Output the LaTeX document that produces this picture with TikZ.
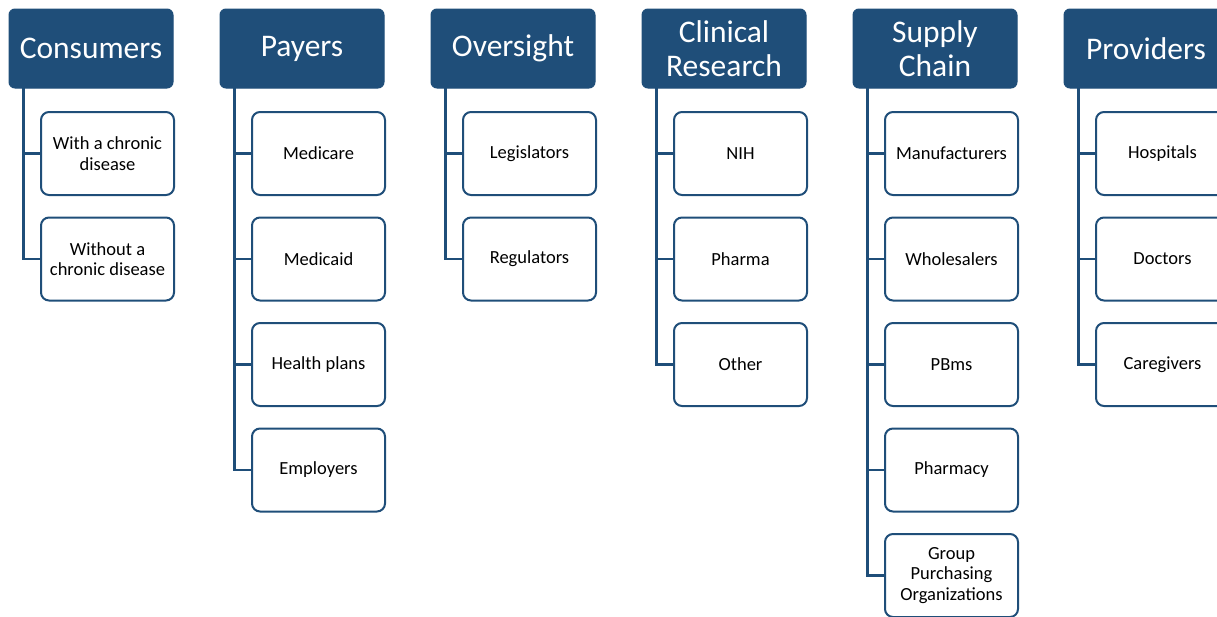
\documentclass[tikz,border=0pt]{standalone}
\usepackage{fontspec}
\setmainfont{Carlito}
\definecolor{navy}{RGB}{31,78,121}
\tikzset{
  hdr/.style={draw=navy, fill=navy, rounded corners=6pt, minimum width=164pt, minimum height=79pt,
    text=white, font=\fontsize{31.5}{34.5}\selectfont, align=center, inner sep=0pt, line width=1pt},
  child/.style={draw=navy, fill=white, rounded corners=8pt, minimum width=133pt, minimum height=83pt,
    text=black, font=\fontsize{18.5}{20.7}\selectfont, align=center, inner sep=0pt, line width=2pt},
  conn/.style={draw=navy, line width=2.5pt}
}
\begin{document}
\begin{tikzpicture}[x=1pt,y=-1pt]
\useasboundingbox (0,0) rectangle (1217,616);
% headers
\node[hdr] (h0) at (91,48.5) {Consumers};
\node[hdr] (h1) at (302,48.5) {Payers};
\node[hdr] (h2) at (513,48.5) {Oversight};
\node[hdr] (h3) at (724,48.5) {Clinical\\Research};
\node[hdr] (h4) at (935,48.5) {Supply\\Chain};
\node[hdr] (h5) at (1146,48.5) {Providers};
% children
\node[child] (c00) at (107.5,153.5) {With a chronic\\disease};
\node[child] (c01) at (107.5,259) {Without a\\chronic disease};
\node[child] (c10) at (318.5,153.5) {Medicare};
\node[child] (c11) at (318.5,259) {Medicaid};
\node[child] (c12) at (318.5,364.5) {Health plans};
\node[child] (c13) at (318.5,470) {Employers};
\node[child] (c20) at (529.5,153.5) {Legislators};
\node[child] (c21) at (529.5,259) {Regulators};
\node[child] (c30) at (740.5,153.5) {NIH};
\node[child] (c31) at (740.5,259) {Pharma};
\node[child] (c32) at (740.5,364.5) {Other};
\node[child] (c40) at (951.5,153.5) {Manufacturers};
\node[child] (c41) at (951.5,259) {Wholesalers};
\node[child] (c42) at (951.5,364.5) {PBms};
\node[child] (c43) at (951.5,470) {Pharmacy};
\node[child] (c44) at (951.5,575.5) {Group\\Purchasing\\Organizations};
\node[child] (c50) at (1162.5,153.5) {Hospitals};
\node[child] (c51) at (1162.5,259) {Doctors};
\node[child] (c52) at (1162.5,364.5) {Caregivers};
% connectors
\foreach \h/\cs in {h0/{c00,c01}, h1/{c10,c11,c12,c13}, h2/{c20,c21}, h3/{c30,c31,c32},
                    h4/{c40,c41,c42,c43,c44}, h5/{c50,c51,c52}}{
  \foreach \c in \cs {
    \draw[conn] ([xshift=15pt,yshift=0.5pt]\h.south west) |- (\c.west);
  }
}
\end{tikzpicture}
\end{document}
